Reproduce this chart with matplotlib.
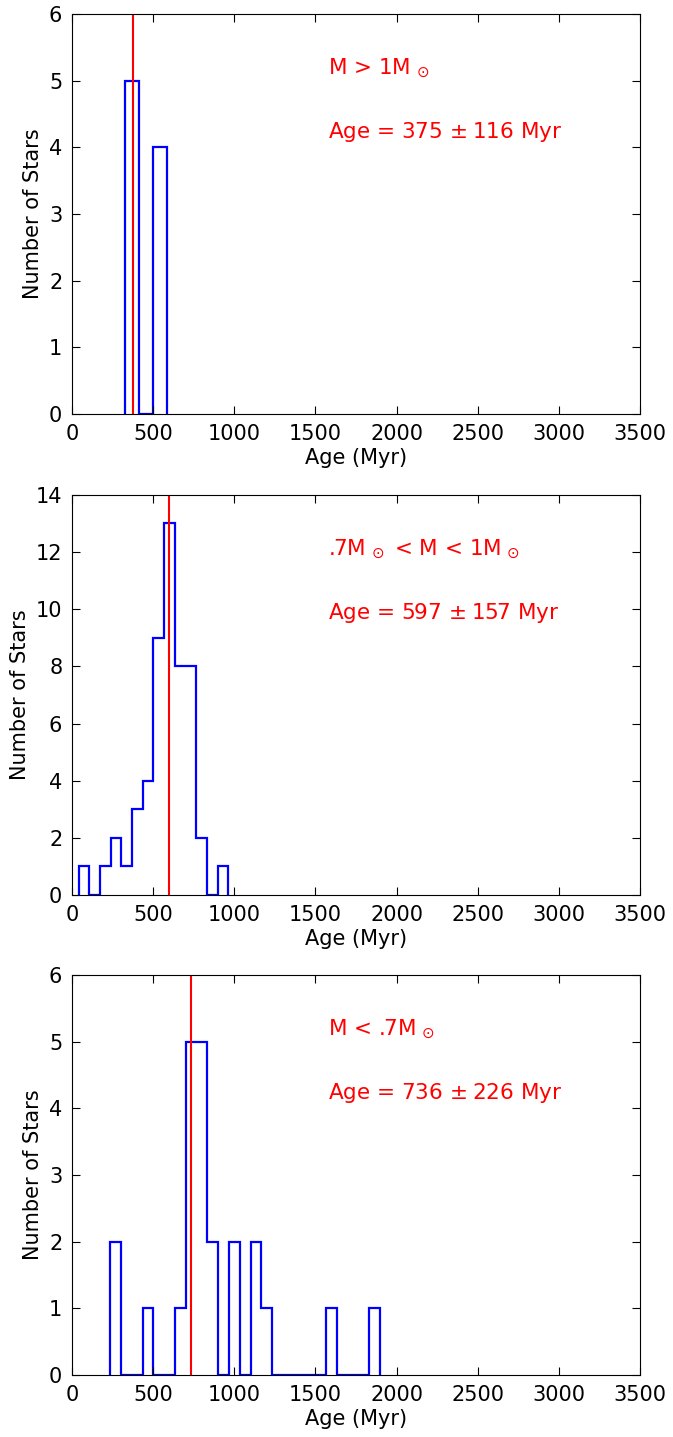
import numpy as np
import matplotlib
matplotlib.use('Agg')
import matplotlib.pyplot as plt

bordes_alta = [328, 413, 498, 583]
cuentas_alta = [5, 0, 4]

bordes_media = [41, 107, 173, 238, 304, 370, 436, 502, 568, 634, 700, 765, 831, 897, 963]
cuentas_media = [1, 0, 1, 2, 1, 3, 4, 9, 13, 8, 8, 2, 0, 1]

bordes_baja = list(np.linspace(236, 1898, 26))
cuentas_baja = [2, 0, 0, 1, 0, 0, 1, 5, 5, 2, 0, 2, 0, 2, 1, 0, 0, 0, 0, 0, 1, 0, 0, 0, 1]

# edad media de cada grupo
edades = [375, 597, 736]
errores = [116, 157, 226]
etiquetas = [r'M > 1M$_{\,\odot}$', r'.7M$_{\,\odot}$ < M < 1M$_{\,\odot}$', r'M < .7M$_{\,\odot}$']
ymax = [6, 14, 6]
ypaso = [1, 2, 1]

fig = plt.figure(figsize=(6.73, 14.37), dpi=100, facecolor='white')

paneles = [(bordes_alta, cuentas_alta), (bordes_media, cuentas_media), (bordes_baja, cuentas_baja)]
fondos = [0.7119, 0.3772, 0.0431]

for i, (bordes, cuentas) in enumerate(paneles):
    ax = fig.add_axes([0.107, fondos[i], 0.844, 0.2784])
    ax.stairs(cuentas, bordes, baseline=0, color='blue', linewidth=1.6)
    ax.axvline(edades[i], color='red', linewidth=1.5)
    ax.set_xlim(0, 3500)
    ax.set_ylim(0, ymax[i])
    ax.set_xticks(np.arange(0, 3501, 500))
    ax.set_yticks(np.arange(0, ymax[i] + 1, ypaso[i]))
    ax.tick_params(direction='in', top=True, right=True, labelsize=15, length=6, pad=7)
    ax.set_xlabel('Age (Myr)', fontsize=15, labelpad=3)
    ax.set_ylabel('Number of Stars', fontsize=15)
    ax.text(0.45, 0.85, etiquetas[i], transform=ax.transAxes, color='red', fontsize=15.5)
    ax.text(0.45, 0.69, 'Age = %d$\\,\\pm$%d Myr' % (edades[i], errores[i]),
            transform=ax.transAxes, color='red', fontsize=15.5)

fig.savefig('out.png', dpi=100, facecolor='white')
